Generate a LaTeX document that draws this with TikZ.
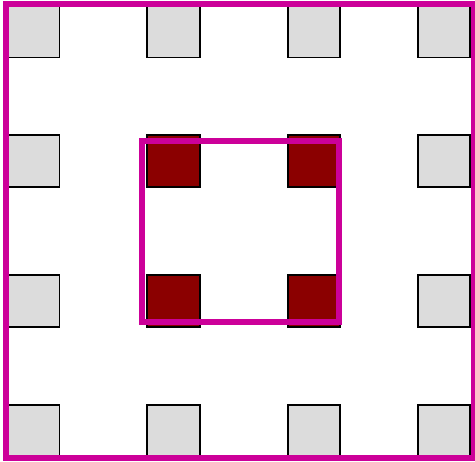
\documentclass[tikz,border=0pt]{standalone}
\usepackage{tikz}
\usetikzlibrary{positioning}

\definecolor{framemag}{RGB}{204,0,153}
\definecolor{hotred}{RGB}{139,0,0}
\definecolor{cellgray}{RGB}{220,220,220}

\begin{document}
\begin{tikzpicture}[
    x=1pt, y=-1pt,
    cell/.style={rectangle, draw=black, line width=1.6pt, fill=cellgray, minimum size=52.5pt, inner sep=0pt},
    hot/.style={cell, fill=hotred},
    box/.style={draw=framemag, line width=6pt}
]
\useasboundingbox (0,0) rectangle (475,462);

% Grid of cells, the middle four are highlighted
\foreach \x [count=\i] in {33.3,173.5,314,444} {
    \foreach \y [count=\j] in {31.3,161,301,431} {
        \pgfmathtruncatemacro\inmid{and(and(\i>1,\i<4),and(\j>1,\j<4))}
        \ifnum\inmid=1 \def\kind{hot}\else\def\kind{cell}\fi
        \node[\kind] (c\i\j) at (\x,\y) {};
    }
}

% Frames
\draw[box] (6.3,3.8) rectangle (474,458);
\draw[box] (142,141) rectangle (339,322);

\end{tikzpicture}
\end{document}
